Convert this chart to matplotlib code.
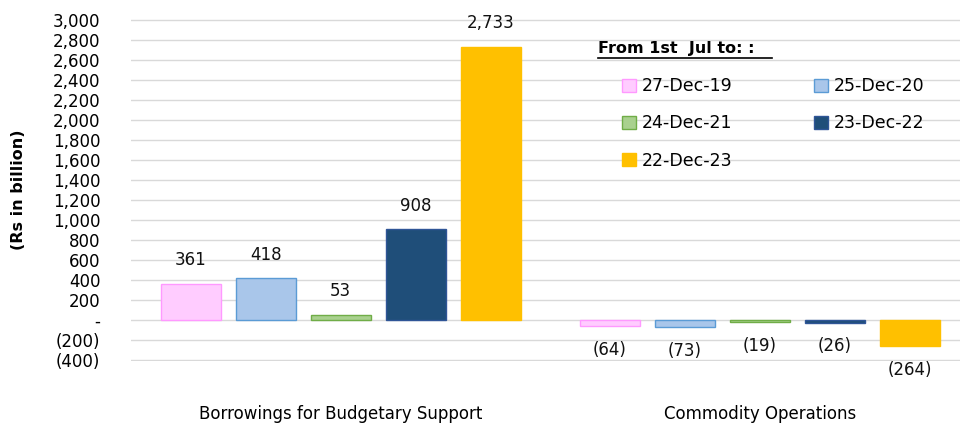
import matplotlib.pyplot as plt
from matplotlib.lines import Line2D
from matplotlib.patches import Patch
import numpy as np

plt.rcParams['font.family'] = ['DejaVu Sans']

# data
categories = ['Borrowings for Budgetary Support', 'Commodity Operations']
series = ['27-Dec-19', '25-Dec-20', '24-Dec-21', '23-Dec-22', '22-Dec-23']
values = [
    [361, -64],
    [418, -73],
    [53, -19],
    [908, -26],
    [2733, -264],
]
fills = ['#FFCCFF', '#A9C6EA', '#A9D18E', '#1F4E79', '#FFC000']
edges = ['#FF99FF', '#5B9BD5', '#70AD47', '#2F5597', '#FFC000']
yticks = [-400, -200, 0, 200, 400, 600, 800, 1000, 1200, 1400, 1600, 1800,
          2000, 2200, 2400, 2600, 2800, 3000]


def fmt(v):
    if v == 0:
        return '-'
    if v < 0:
        return '({:,})'.format(-v)
    return '{:,}'.format(v)


fig = plt.figure(figsize=(9.6, 4.25), dpi=100)
ax = fig.add_axes([131 / 960, 64 / 425, 829 / 960, 342 / 425])

x = np.arange(len(categories))
step = 75 / 419
width = 60 / 419
for i, s in enumerate(series):
    pos = x + (i - 2) * step
    ax.bar(pos, values[i], width, color=fills[i], edgecolor=edges[i],
           linewidth=1, label=s, zorder=3)
    for xp, v in zip(pos, values[i]):
        off = 17 if v > 0 else -17
        ax.annotate(fmt(v), (xp, v), xytext=(0, off), textcoords='offset points',
                    ha='center', va='center', fontsize=12, color='#111111')

ax.set_xlim(-0.5, 1.477)
ax.set_ylim(-410, 3010)
ax.set_yticks(yticks)
ax.set_yticklabels([fmt(t) for t in yticks], fontsize=12)
ax.set_xticks(x)
ax.set_xticklabels(categories, fontsize=12)
ax.tick_params(axis='both', length=0)
ax.tick_params(axis='y', pad=22)
ax.tick_params(axis='x', pad=32)
ax.grid(axis='y', color='#D9D9D9', linewidth=1, zorder=0)
for sp in ax.spines.values():
    sp.set_visible(False)
ax.set_ylabel('(Rs in billion)', fontsize=11.5, fontweight='bold', labelpad=19)

# legend, row-major order like the original
order = [0, 2, 4, 1, 3]
handles = [Patch(facecolor=fills[i], edgecolor=edges[i], label=series[i])
           for i in order]
leg = ax.legend(handles=handles, ncol=2, loc='upper left',
                bbox_to_anchor=(0.573, 0.875), frameon=False, fontsize=12.5,
                handlelength=0.8, handleheight=0.8, handletextpad=0.35,
                columnspacing=4.7, labelspacing=1.1)

fig.text(598 / 960, 1 - 48 / 425, 'From 1st  Jul to: :', fontsize=11.5,
         fontweight='bold', va='center', ha='left')
fig.add_artist(Line2D([598 / 960, 772 / 960], [1 - 58 / 425, 1 - 58 / 425],
                      color='black', linewidth=1.2))

fig.savefig('out.png', dpi=100)
